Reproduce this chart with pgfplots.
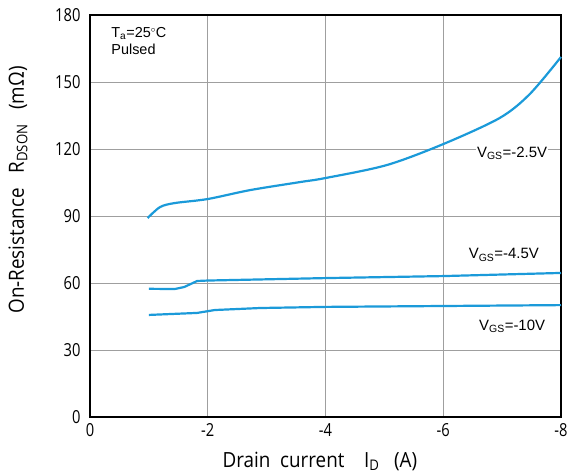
\documentclass[border=0pt]{standalone}
\usepackage{fontspec}
\setmainfont{Open Sans}[FakeStretch=0.82]
\newfontfamily\lab{Open Sans}[FakeStretch=0.9]
\newfontfamily\arial{Liberation Sans}
\usepackage{pgfplots}
\pgfplotsset{compat=1.18}
\definecolor{curve}{HTML}{1B9AD9}
\begin{document}
\begin{tikzpicture}
\begin{axis}[
  name=ax,
  scale only axis,
  width=471bp, height=402bp,
  xmin=-8, xmax=0, ymin=0, ymax=180,
  x dir=reverse,
  xtick={-8,-6,-4,-2,0},
  xticklabels={-8,-6,-4,-2,0},
  ytick={0,30,60,90,120,150,180},
  yticklabels={0,30,60,90,120,150,180},
  major tick length=0pt,
  grid=major,
  major grid style={gray!75, line width=0.9bp},
  axis line style={black, line width=2.2bp},
  tick label style={font=\fontsize{18}{20}\selectfont},
  xticklabel style={yshift=-3bp},
  yticklabel style={xshift=-6bp},
  xlabel={Drain\ \ current\ \ \ \ I\textsubscript{D}\ \ \ (A)},
  ylabel={On-Resistance\ \ \ R\textsubscript{DSON}\ \ \ (mΩ)},
  label style={font=\lab\fontsize{21}{23}\selectfont},
  xlabel style={at={(axis description cs:0.488,-0.11)}, anchor=center},
  ylabel style={at={(axis description cs:-0.153,0.565)}, anchor=center},
  clip=false,
]
\addplot[curve, line width=2.2bp, smooth] coordinates {
 (-0.98,89.1) (-1.19,94) (-1.44,95.8) (-2,97.6) (-2.72,101.6) (-3.57,105.2)
 (-4,107) (-5.04,112.8) (-6,122.2) (-6.96,133.9) (-7.47,144.6) (-8,161.2)};
\addplot[curve, line width=2.2bp] coordinates {
 (-1,57.4) (-1.44,57.3) (-1.6,58.2) (-1.82,60.9) (-2,61.1) (-4,62.2) (-6,63.1) (-8,64.5)};
\addplot[curve, line width=2.2bp] coordinates {
 (-1,45.7) (-1.82,46.6) (-2.12,47.9) (-2.89,48.8) (-4,49.3) (-6,49.7) (-8,50.1)};
\node[anchor=north west, align=left, inner sep=0pt, font=\arial\fontsize{14.5}{16.5}\selectfont]
  at (axis cs:-0.36,174.5) {T\textsubscript{a}=25\textsuperscript{\fontsize{9}{9}\selectfont$\circ$}C\\Pulsed};
\node[fill=white, inner sep=1bp, font=\arial\fontsize{15}{17}\selectfont] at (axis cs:-7.17,118.2) {V\textsubscript{GS}=-2.5V};
\node[inner sep=1bp, font=\arial\fontsize{15}{17}\selectfont] at (axis cs:-7.03,72.5) {V\textsubscript{GS}=-4.5V};
\node[inner sep=1bp, font=\arial\fontsize{15}{17}\selectfont] at (axis cs:-7.17,40.7) {V\textsubscript{GS}=-10V};
\end{axis}
\pgfresetboundingbox
\useasboundingbox ([xshift=-90bp,yshift=-58bp]ax.south west) rectangle ([xshift=10bp,yshift=15bp]ax.north east);
\end{tikzpicture}
\end{document}
